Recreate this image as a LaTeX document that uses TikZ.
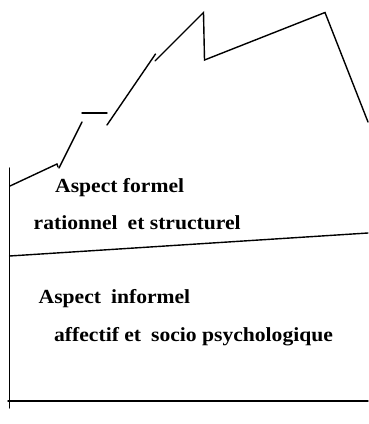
\documentclass[tikz,border=0pt]{standalone}
\usepackage{fontspec}
\setmainfont{Liberation Serif}[FakeStretch=1.08]
\begin{document}
\begin{tikzpicture}[x=1pt,y=-1pt,
  ln/.style={line width=1.4pt,line cap=round,line join=miter},
  lbl/.style={anchor=base west,inner sep=0pt,font=\fontsize{20}{24}\selectfont\bfseries}]
\useasboundingbox (0,0) rectangle (368,424);
% coordinates
\coordinate (vtop) at (9.5,168);
\coordinate (vbot) at (9.5,408);
\coordinate (a1) at (10,186);
\coordinate (a2) at (57,164);
\coordinate (b1) at (59,168);
\coordinate (b2) at (82,122);
\coordinate (h1) at (82,113);
\coordinate (h2) at (107,113);
\coordinate (c1) at (107,125);
\coordinate (c2) at (155.5,54);
\coordinate (d1) at (155,61);
\coordinate (d2) at (203.5,12.5);
\coordinate (d3) at (204.5,60);
\coordinate (d4) at (325,12.5);
\coordinate (d5) at (368,122);
\coordinate (m1) at (9.5,256);
\coordinate (m2) at (368,233);
\coordinate (f1) at (8,401);
\coordinate (f2) at (368,401);
% lines
\draw[ln] (vtop) -- (vbot);
\draw[ln] (a1) -- (a2) -- ++(1,3);
\draw[ln] (b1) -- (b2);
\draw[ln] (h1) -- (h2);
\draw[ln] (c1) -- (c2);
\draw[ln] (d1) -- (d2) -- (d3) -- (d4) -- (d5);
\draw[ln] (m1) -- (m2);
\draw[ln] (f1) -- (f2);
% texts
\node[lbl] (t1) at (55,192.5) {Aspect formel};
\node[lbl] (t2) at (33.5,229.5) {rationnel\hspace{0.5em}et structurel};
\node[lbl] (t3) at (38.5,303.5) {Aspect\hspace{0.5em}informel};
\node[lbl] (t4) at (54,341) {affectif et\hspace{0.5em}socio psychologique};
\end{tikzpicture}
\end{document}
